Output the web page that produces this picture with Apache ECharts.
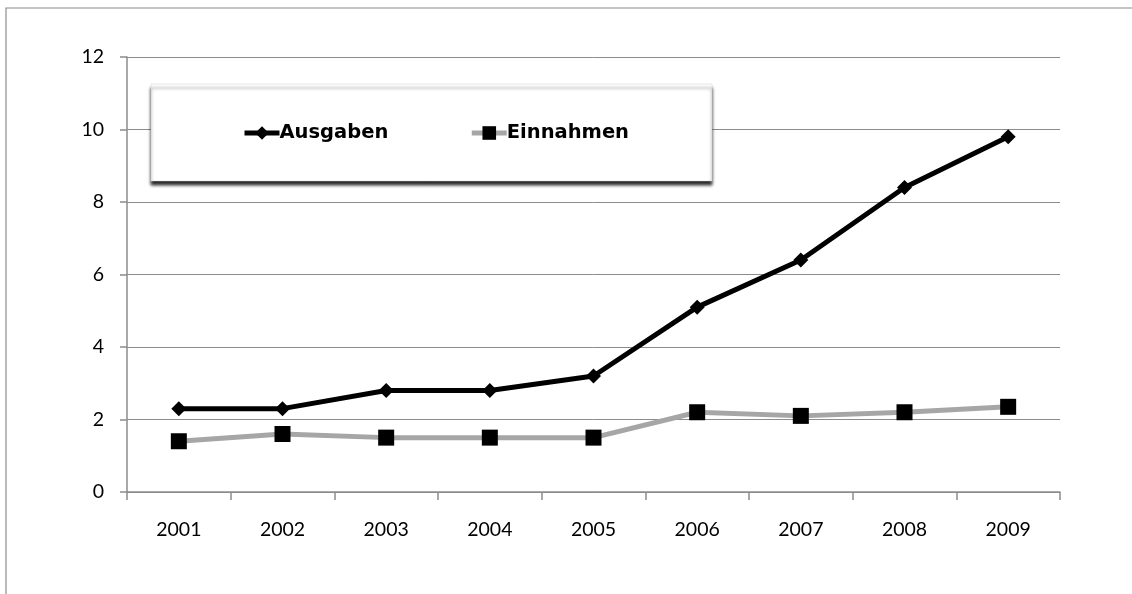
<!DOCTYPE html>
<html><head><meta charset="utf-8">
<script src="https://cdn.jsdelivr.net/npm/echarts@6/dist/echarts.min.js"></script>
<style>html,body{margin:0;padding:0;background:#fff}#c{width:1132px;height:594px}</style>
</head><body><div id="c"></div>
<script>
const years = ['2001','2002','2003','2004','2005','2006','2007','2008','2009'];
const ausgaben = [2.3, 2.3, 2.8, 2.8, 3.2, 5.1, 6.4, 8.4, 9.8];
const einnahmen = [1.4, 1.6, 1.5, 1.5, 1.5, 2.2, 2.1, 2.2, 2.35];
const yTicks = [0, 2, 4, 6, 8, 10, 12];

const TICKFONT = 'Lato, sans-serif';
const LEGFONT = '"DejaVu Sans", sans-serif';
const chart = echarts.init(document.getElementById('c'));
chart.setOption({
  animation: false,
  backgroundColor: '#fff',
  grid: {left: 127, right: 72, top: 57, bottom: 102},
  graphic: [
    {type: 'rect', z: 1, shape: {x: 6, y: 8, width: 1300, height: 700},
     style: {fill: 'none', stroke: '#8c8c8c', lineWidth: 1.2}},
    {type: 'rect', z: 50, shape: {x: 151, y: 84, width: 561, height: 97},
     style: {fill: '#fff', stroke: '#d0d0d0', lineWidth: 0.5, shadowColor: 'rgba(0,0,0,0.85)', shadowBlur: 3, shadowOffsetY: 4}}
  ],
  legend: {
    z: 60,
    left: 237, top: 118,
    itemWidth: 35, itemHeight: 17, itemGap: 81,
    lineStyle: {width: 5},
    textStyle: {fontFamily: LEGFONT, fontSize: 19.5, fontWeight: 'bold', color: '#000', padding: [0,0,0,-5]},
    data: ['Ausgaben', 'Einnahmen']
  },
  xAxis: {
    type: 'category', data: years, boundaryGap: true,
    axisLine: {lineStyle: {color: '#8c8c8c', width: 1.5}},
    axisTick: {show: true, length: 8, interval: 0, lineStyle: {color: '#8c8c8c', width: 1.5}},
    axisLabel: {fontFamily: TICKFONT, fontSize: 19.5, color: '#000', margin: 28}
  },
  yAxis: {
    type: 'value', min: 0, max: 12, interval: 2,
    axisLine: {show: true, lineStyle: {color: '#8c8c8c', width: 1.5}},
    axisTick: {show: true, length: 7, lineStyle: {color: '#8c8c8c', width: 1.5}},
    splitLine: {lineStyle: {color: '#8c8c8c', width: 1}},
    axisLabel: {fontFamily: TICKFONT, fontSize: 19.5, color: '#000', margin: 23,
      formatter: v => yTicks.includes(v) ? String(v) : ''}
  },
  series: [
    {name: 'Ausgaben', type: 'line', data: ausgaben, symbol: 'diamond', symbolSize: 15,
     lineStyle: {color: '#000', width: 5}, itemStyle: {color: '#000'}, z: 4},
    {name: 'Einnahmen', type: 'line', data: einnahmen, symbol: 'rect', symbolSize: 16,
     lineStyle: {color: '#a6a6a6', width: 5}, itemStyle: {color: '#000'}, z: 3}
  ]
});
</script></body></html>
